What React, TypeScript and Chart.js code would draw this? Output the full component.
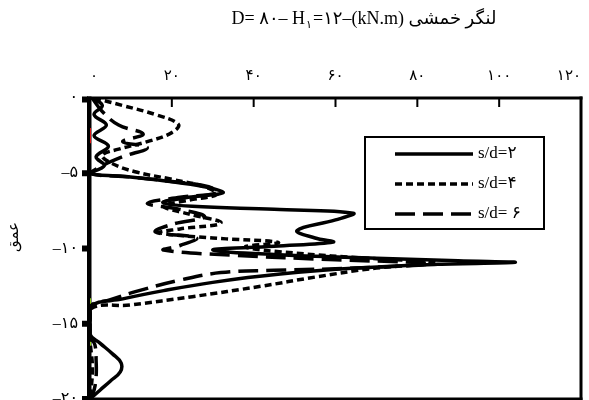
import React, { useEffect, useRef } from "react";
import { Chart, registerables } from "chart.js";

Chart.register(...registerables);

// Bending moment (kN.m) against depth for three pile spacings
const sd2Moment = [0.5, 3, 1, 4, 1, 4.5, 1.5, 3.5, 0, 8, 18, 28, 32.5, 24, 17.8, 25, 45, 64.3, 60, 50.6, 55, 59.4, 45, 30, 45, 70, 90, 103.9, 85, 65, 46.5, 30, 18, 8, 0, 0, 2.5, 5.5, 7.6, 7.4, 5, 2.5, 0];
const sd2Depth = [0, -0.5, -1.1, -1.8, -2.5, -3.2, -3.9, -4.5, -5.0, -5.2, -5.5, -5.9, -6.3, -6.6, -6.95, -7.2, -7.4, -7.65, -8.1, -8.8, -9.3, -9.57, -9.85, -10.1, -10.4, -10.65, -10.82, -10.92, -11.05, -11.3, -11.7, -12.25, -12.8, -13.35, -13.9, -15.7, -16.3, -17.0, -17.6, -18.2, -18.8, -19.4, -20];

const sd4Moment = [1, 8, 16, 21.6, 20, 14, 7, 3, 5, 11, 20, 28, 31, 24, 18, 24, 32, 22, 17, 30, 46, 38, 50, 68, 84.8, 70, 55, 42, 25, 10, 0, 0, 0.6, 0];
const sd4Depth = [0, -0.5, -1.1, -1.75, -2.3, -2.9, -3.4, -3.8, -4.3, -4.9, -5.4, -5.9, -6.4, -6.8, -7.2, -7.7, -8.3, -8.7, -8.95, -9.3, -9.6, -9.9, -10.3, -10.65, -10.95, -11.3, -11.9, -12.5, -13.2, -13.75, -14.05, -16, -18, -20];

const sd6Moment = [0.5, 3, 7, 13, 8, 14, 8, 3, 0, 10, 20, 29, 31, 22, 14, 22, 28, 20, 16, 26, 22, 18, 35, 60, 83, 65, 45, 32, 22, 12, 5, 0, 0, 1.2, 1.5, 1.5, 1, 0];
const sd6Depth = [0, -0.9, -1.8, -2.4, -2.9, -3.3, -3.9, -4.5, -5.0, -5.25, -5.55, -5.9, -6.3, -6.6, -7.0, -7.4, -7.9, -8.4, -8.9, -9.3, -9.8, -10.1, -10.45, -10.75, -11.0, -11.3, -11.45, -11.6, -12.1, -12.8, -13.4, -13.9, -15.8, -16.4, -17.5, -18.5, -19.4, -20];

// short coloured traces lying on the zero-moment axis
const redTraceMoment = [0, 0];
const redTraceDepth = [-2.0, -3.0];
const greenTraceMoment = [0, 0];
const greenTraceDepth = [-13.3, -14.2];
const greenTrace2Moment = [0, 0];
const greenTrace2Depth = [-15.9, -16.6];

const seriesLabels = ["s/d=۲", "s/d=۴", "s/d= ۶"];

const xTickValues = [0, 20, 40, 60, 80, 100, 120];
const xTickLabels = ["۰", "۲۰", "۴۰", "۶۰", "۸۰", "۱۰۰", "۱۲۰"];
const yTickValues = [0, -5, -10, -15, -20];
const yTickLabels = ["۰", "–۵", "–۱۰", "–۱۵", "–۲۰"];

const titleMain = "D= ۸۰– H";
const titleSub = "۱";
const titleRest = "=۱۲–(kN.m) لنگر خمشی";
const yTitle = "عمق";

const FONT = "'Liberation Serif', 'DejaVu Sans', serif";

const pairs = (xs: number[], ys: number[]) => xs.map((x, i) => ({ x, y: ys[i] }));

const decorPlugin = {
  id: "decor",
  beforeDatasetsDraw(chart: any) {
    const { ctx, chartArea: a, scales } = chart;
    const x = scales.x;
    const y = scales.y;
    ctx.save();
    ctx.fillStyle = "#000";
    // plot frame
    ctx.fillRect(a.left - 3, a.top - 1.5, 4.5, a.bottom - a.top + 3);
    ctx.fillRect(a.left - 3, a.top - 1.5, a.right - a.left + 4.5, 3);
    ctx.fillRect(a.right - 1.5, a.top - 1.5, 3, a.bottom - a.top + 3);
    ctx.fillRect(a.left - 3, a.bottom - 1.5, a.right - a.left + 4.5, 3);
    // inward ticks on the moment axis
    xTickValues.forEach((v) => {
      if (v > 0 && v < 120) {
        const px = x.getPixelForValue(v);
        ctx.fillRect(px - 1, a.top, 2, 9);
      }
    });
    // square ticks on the depth axis
    yTickValues.forEach((v) => {
      const py = y.getPixelForValue(v);
      const t = Math.max(py - 3, a.top - 1.5);
      const b = Math.min(t + 6, chart.height);
      ctx.fillRect(a.left - 8, t, 6, b - t);
    });
    ctx.restore();
  },
  afterDatasetsDraw(chart: any) {
    const { ctx } = chart;
    ctx.save();
    // legend
    const lx = 365, ly = 137, lw = 179, lh = 92;
    ctx.fillStyle = "#fff";
    ctx.fillRect(lx, ly, lw, lh);
    ctx.strokeStyle = "#000";
    ctx.lineWidth = 2;
    ctx.strokeRect(lx, ly, lw, lh);
    const rows = [154, 184, 214];
    chart.data.datasets.slice(0, 3).forEach((ds: any, i: number) => {
      const ry = rows[i];
      ctx.beginPath();
      ctx.setLineDash(ds.borderDash || []);
      ctx.lineWidth = 3.5;
      ctx.moveTo(395, ry);
      ctx.lineTo(473, ry);
      ctx.stroke();
      ctx.setLineDash([]);
      ctx.fillStyle = "#000";
      ctx.font = `17px ${FONT}`;
      ctx.textAlign = "left";
      ctx.textBaseline = "middle";
      ctx.fillText(ds.label, 478, ry);
    });

    // title
    ctx.fillStyle = "#000";
    ctx.textBaseline = "alphabetic";
    ctx.textAlign = "left";
    const big = `18px ${FONT}`;
    const small = `11px ${FONT}`;
    ctx.font = big;
    const w1 = ctx.measureText(titleMain).width;
    const w3 = ctx.measureText(titleRest).width;
    ctx.font = small;
    const w2 = ctx.measureText(titleSub).width + 2;
    const total = w1 + w2 + w3;
    let tx = 364 - total / 2;
    const ty = 24;
    ctx.font = big;
    ctx.fillText(titleMain, tx, ty);
    tx += w1;
    ctx.font = small;
    ctx.fillText(titleSub, tx + 1, ty + 4);
    tx += w2;
    ctx.font = big;
    ctx.fillText(titleRest, tx, ty);

    // depth axis title
    ctx.save();
    ctx.translate(14, 237);
    ctx.rotate(-Math.PI / 2);
    ctx.textAlign = "center";
    ctx.textBaseline = "middle";
    ctx.font = `15px ${FONT}`;
    ctx.fillText(yTitle, 0, 0);
    ctx.restore();

    ctx.restore();
  },
};

export default function App() {
  const ref = useRef<HTMLCanvasElement | null>(null);

  useEffect(() => {
    if (!ref.current) return;
    const line = { borderColor: "#000", borderWidth: 3.5, pointRadius: 0, showLine: true, tension: 0.4, fill: false };
    const trace = { borderWidth: 2, pointRadius: 0, showLine: true, tension: 0, fill: false };
    const chart = new Chart(ref.current, {
      type: "scatter",
      data: {
        datasets: [
          { ...line, label: seriesLabels[0], data: pairs(sd2Moment, sd2Depth), borderDash: [] },
          { ...line, label: seriesLabels[1], data: pairs(sd4Moment, sd4Depth), borderDash: [7, 4] },
          { ...line, label: seriesLabels[2], data: pairs(sd6Moment, sd6Depth), borderDash: [20, 8] },
          { ...trace, label: "red", borderColor: "#e01010", data: pairs(redTraceMoment, redTraceDepth) },
          { ...trace, label: "green", borderColor: "#8ccf10", data: pairs(greenTraceMoment, greenTraceDepth) },
          { ...trace, label: "green2", borderColor: "#8ccf10", data: pairs(greenTrace2Moment, greenTrace2Depth) },
        ],
      },
      options: {
        responsive: false,
        animation: false,
        layout: { padding: { top: 0, left: 0, right: 8, bottom: 1 } },
        plugins: { legend: { display: false }, tooltip: { enabled: false }, title: { display: false } },
        scales: {
          x: {
            type: "linear",
            position: "top",
            min: 0,
            max: 120,
            grid: { display: false },
            border: { display: false },
            afterFit: (s: any) => { s.height = 98; s.paddingLeft = 0; s.paddingRight = 0; },
            ticks: {
              stepSize: 20,
              padding: 5,
              align: "inner",
              color: "#000",
              font: { family: FONT, size: 15 },
              callback: (v: any) => { const i = xTickValues.indexOf(Number(v)); return i >= 0 ? xTickLabels[i] : ""; },
            },
          },
          y: {
            type: "linear",
            min: -20,
            max: 0,
            grid: { display: false },
            border: { display: false },
            afterFit: (s: any) => { s.width = 90; s.paddingTop = 0; s.paddingBottom = 0; },
            ticks: {
              stepSize: 5,
              padding: 4,
              color: "#000",
              font: { family: FONT, size: 16 },
              callback: (v: any) => { const i = yTickValues.indexOf(Number(v)); return i >= 0 ? yTickLabels[i] : ""; },
            },
          },
        },
      },
      plugins: [decorPlugin],
    });
    return () => chart.destroy();
  }, []);

  return (
    <div style={{ position: "fixed", left: 0, top: 0, width: 589, height: 400, background: "#fff" }}>
      <canvas ref={ref} width={589} height={400} style={{ display: "block" }} />
    </div>
  );
}
